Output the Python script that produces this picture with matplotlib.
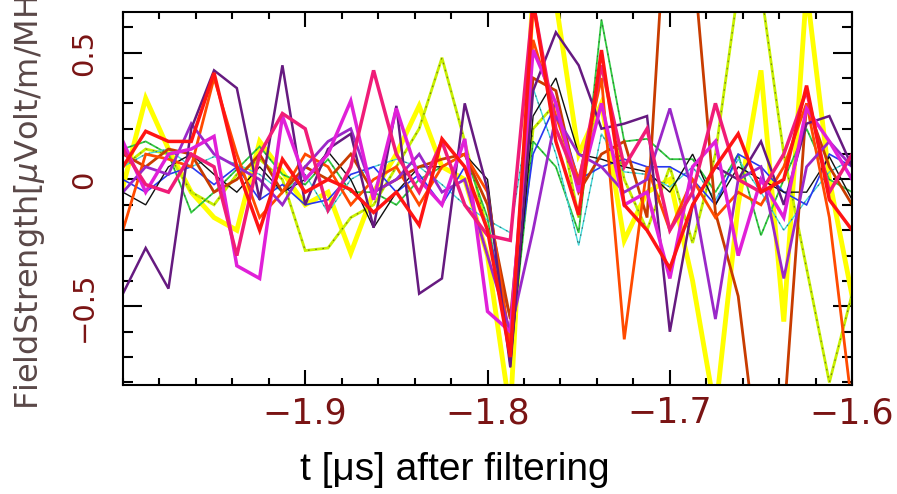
import matplotlib.pyplot as plt
from matplotlib.ticker import MultipleLocator, FuncFormatter

# sample times [us], 12.5 ns spacing
t_us = [-2.0000, -1.9875, -1.9750, -1.9625, -1.9500, -1.9375, -1.9250, -1.9125,
        -1.9000, -1.8875, -1.8750, -1.8625, -1.8500, -1.8375, -1.8250, -1.8125,
        -1.8000, -1.7875, -1.7750, -1.7625, -1.7500, -1.7375, -1.7250, -1.7125,
        -1.7000, -1.6875, -1.6750, -1.6625, -1.6500, -1.6375, -1.6250, -1.6125,
        -1.6000]

# filtered field strength per antenna [uV/m/MHz]
ant_yellow = [-0.03, 0.32, 0.12, -0.05, -0.15, -0.20, 0.15, 0.03, -0.10, -0.05, -0.29,
              -0.05, 0.10, 0.29, 0.05, 0.00, -0.30, -0.92, 0.75, 0.70, 0.10, 0.30,
              -0.24, -0.05, 0.00, -0.40, -0.92, -0.10, 0.43, -0.56, 0.75, 0.00, -0.46]
ant_lime = [0.05, 0.12, 0.10, -0.05, -0.10, 0.02, 0.08, 0.00, -0.28, -0.27, -0.15,
            -0.10, 0.05, 0.20, 0.48, 0.15, -0.20, -0.65, 0.20, 0.30, -0.15, 0.45,
            0.00, -0.20, 0.05, -0.25, 0.10, 0.75, 0.75, 0.10, -0.35, -0.80, -0.45]
ant_green = [0.12, 0.15, 0.10, -0.13, -0.05, 0.04, 0.13, 0.02, -0.02, 0.08, -0.05,
             -0.05, -0.10, 0.00, 0.05, 0.10, -0.15, -0.70, 0.15, 0.05, -0.21, 0.63,
             0.15, 0.16, 0.08, 0.08, -0.05, 0.10, -0.22, 0.00, 0.20, 0.00, -0.05]
ant_cyan = [0.05, 0.10, 0.12, 0.05, 0.09, 0.06, 0.02, -0.05, 0.02, -0.13, 0.00,
            0.05, 0.08, 0.05, -0.02, -0.10, -0.16, -0.21, 0.36, 0.10, -0.26, 0.18,
            0.03, 0.02, -0.03, 0.05, -0.08, 0.08, -0.05, -0.20, -0.08, 0.03, 0.08]
ant_blue = [0.00, -0.05, 0.02, 0.05, -0.02, 0.05, -0.08, -0.02, -0.10, -0.08, 0.02,
            0.05, -0.05, 0.02, -0.10, 0.05, -0.20, -0.55, 0.10, 0.30, 0.00, 0.05,
            0.08, 0.05, 0.05, 0.00, -0.10, 0.10, 0.05, -0.05, -0.10, 0.10, 0.05]
ant_black = [-0.05, -0.10, 0.05, 0.10, 0.02, -0.05, 0.05, -0.05, 0.00, 0.11, 0.00,
             -0.19, -0.05, 0.05, 0.05, 0.10, 0.00, -0.74, 0.25, 0.40, 0.10, 0.08,
             0.05, 0.03, -0.05, 0.10, -0.10, 0.05, 0.00, -0.05, -0.05, 0.09, -0.08]
ant_indigo = [-0.45, -0.27, -0.43, 0.20, 0.43, 0.36, -0.08, 0.45, -0.10, 0.12, 0.18,
              -0.19, 0.29, -0.45, -0.39, 0.30, -0.04, -0.74, 0.35, 0.58, 0.45, 0.20,
              0.22, 0.25, -0.60, -0.10, 0.05, 0.00, 0.15, -0.10, 0.22, 0.25, 0.05]
ant_purple = [-0.05, 0.05, 0.02, 0.22, 0.10, 0.05, 0.00, -0.10, 0.05, 0.15, 0.20,
              -0.05, 0.00, 0.10, -0.05, 0.00, -0.30, -0.60, -0.20, 0.25, 0.10, 0.05,
              -0.05, 0.00, 0.28, -0.05, -0.55, 0.00, 0.05, -0.39, 0.05, 0.15, 0.05]
ant_magenta = [0.15, -0.05, 0.10, 0.12, 0.17, -0.34, -0.39, 0.25, 0.00, 0.10, 0.31,
               -0.08, 0.28, 0.00, -0.10, 0.16, -0.52, -0.60, 0.51, 0.30, -0.05, 0.30,
               -0.10, -0.05, -0.39, 0.05, 0.15, -0.30, 0.00, -0.15, 0.28, 0.15, 0.00]
ant_pink = [0.12, -0.02, -0.05, 0.10, 0.05, -0.30, 0.10, 0.26, 0.20, -0.12, 0.05,
            0.43, 0.10, -0.05, 0.15, -0.10, -0.22, -0.24, 0.70, 0.20, -0.02, 0.45,
            0.05, 0.20, -0.20, -0.05, 0.30, 0.00, -0.05, 0.10, 0.35, -0.05, 0.10]
ant_red = [0.05, 0.19, 0.15, 0.15, 0.42, 0.05, -0.20, 0.08, -0.05, 0.00, -0.04,
           -0.13, -0.05, -0.18, 0.16, 0.05, -0.20, -0.70, 0.70, 0.15, -0.14, 0.51,
           -0.10, -0.20, -0.35, -0.10, 0.05, 0.18, -0.05, 0.00, 0.37, -0.08, -0.20]
ant_orange = [-0.20, 0.10, 0.08, 0.05, 0.40, 0.10, -0.15, -0.05, 0.10, 0.05, -0.10,
              0.00, 0.05, -0.10, 0.05, 0.10, -0.05, -0.65, 0.55, 0.25, 0.00, 0.40,
              -0.63, 0.05, -0.20, 0.00, -0.15, -0.05, -0.10, 0.05, 0.30, -0.15, -0.90]
ant_brown = [0.10, 0.05, 0.12, 0.10, -0.05, 0.00, 0.10, -0.05, 0.05, 0.00, 0.10,
             -0.05, 0.00, 0.05, 0.08, 0.10, -0.10, -0.55, 0.40, 0.35, -0.05, 0.10,
             0.15, -0.15, 1.30, 0.90, -0.13, -0.46, -1.20, -0.95, 0.30, 0.05, -0.10]

x_ticks = [-1.9, -1.8, -1.7, -1.6]
y_ticks = [-0.5, 0.0, 0.5]

# (values, colour, linewidth, dotted overlay)
traces = [
    (ant_yellow, "#ffff00", 3.5, False),
    (ant_lime, "#c8f000", 2.0, True),
    (ant_green, "#30cc40", 1.3, True),
    (ant_cyan, "#40d8d8", 1.0, True),
    (ant_blue, "#2838f0", 1.2, False),
    (ant_black, "#101010", 1.0, False),
    (ant_brown, "#c83c00", 2.0, False),
    (ant_orange, "#ff4a00", 2.0, False),
    (ant_purple, "#9a28c8", 2.0, False),
    (ant_indigo, "#661a80", 1.8, False),
    (ant_magenta, "#e020d8", 2.5, False),
    (ant_pink, "#f01c78", 2.5, False),
    (ant_red, "#ff1414", 2.5, False),
]

tick_col = "#7a1414"

fig = plt.figure(figsize=(8.97, 4.94), dpi=100)
ax = fig.add_axes([0.137, 0.2206, 0.813, 0.7551])

for vals, col, lw, dotted in traces:
    ax.plot(t_us, vals, color=col, lw=lw, solid_joinstyle="miter")
    if dotted:
        ax.plot(t_us, vals, color="#303030", lw=0.8, alpha=0.6,
                linestyle=(0, (1.5, 5)))

ax.set_xlim(-2.0, -1.6)
ax.set_ylim(-0.81, 0.66)

ax.set_xticks(x_ticks)
ax.set_yticks(y_ticks)
ax.xaxis.set_minor_locator(MultipleLocator(0.02))
ax.yaxis.set_minor_locator(MultipleLocator(0.1))
short_fmt = FuncFormatter(lambda v, pos: f"{v:g}".replace("-", "\u2212"))
ax.xaxis.set_major_formatter(short_fmt)
ax.yaxis.set_major_formatter(short_fmt)

ax.tick_params(which="both", direction="in", top=True, right=True,
               color="black", width=1.5)
ax.tick_params(axis="x", which="major", length=11, pad=8,
               labelsize=25, labelcolor=tick_col)
ax.tick_params(axis="x", which="minor", length=5)
ax.tick_params(axis="y", which="major", length=14, pad=18,
               labelsize=21, labelcolor=tick_col, labelrotation=90)
ax.tick_params(axis="y", which="minor", length=7)
for lab in ax.get_yticklabels():
    lab.set_va("center")

for sp in ax.spines.values():
    sp.set_linewidth(1.5)

ax.set_xlabel("t [μs] after filtering", fontsize=28, family="Liberation Sans")
ax.xaxis.set_label_coords(0.455, -0.18)

# long axis title runs off the top edge of the figure
fig.text(0.033, 0.17, "FieldStrength[$\\mu$Volt/m/MHz]", rotation=90,
         ha="center", va="bottom", fontsize=23, color="#5a4848")

fig.savefig("out.png", dpi=100)
